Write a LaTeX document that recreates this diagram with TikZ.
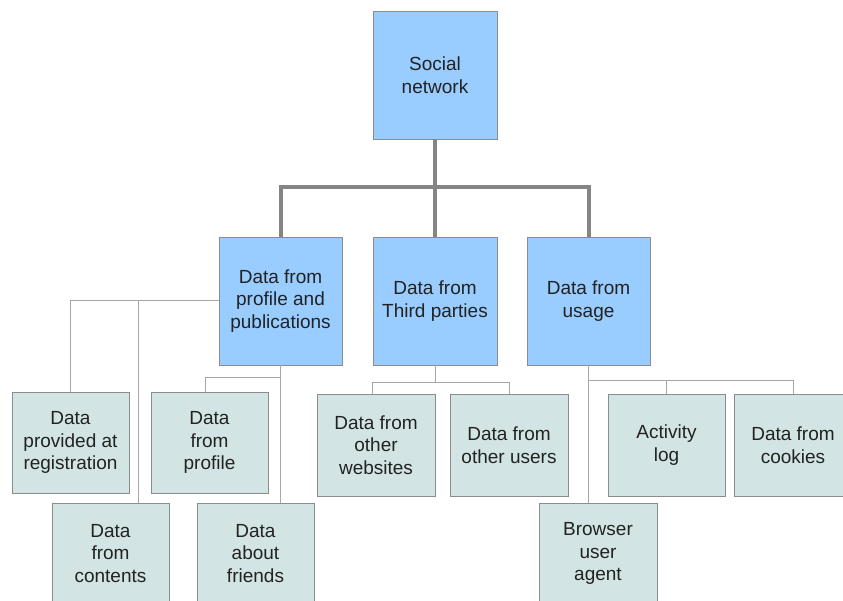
\documentclass[tikz,border=0pt]{standalone}
\usepackage{fontspec}
\setmainfont{Liberation Sans}
\usetikzlibrary{positioning}
\definecolor{topblue}{HTML}{99CCFF}
\definecolor{leafgray}{HTML}{D2E5E4}
\definecolor{framegray}{HTML}{8C8C8C}
\definecolor{linegray}{HTML}{A6A6A6}
\definecolor{thickgray}{HTML}{858585}
\definecolor{inkgray}{HTML}{222222}

\begin{document}
\begin{tikzpicture}[x=1pt,y=-1pt]
			\tikzset{topbox/.style = {shape=rectangle,draw=framegray,fill=topblue,
					minimum width=123pt, minimum height=128pt, inner sep = 0pt,
					align=center, text=inkgray, font=\fontsize{19}{22.5}\selectfont}}
			\tikzset{leafbox/.style = {shape=rectangle,draw=framegray,fill=leafgray,
					minimum width=117pt, minimum height=101pt, inner sep = 0pt,
					align=center, text=inkgray, font=\fontsize{19}{22.5}\selectfont}}
			\tikzset{mainedge/.style = {draw=thickgray, line width=4pt}}
			\tikzset{edge/.style = {draw=linegray, line width=1pt}}
			
			\clip (0,0) rectangle (843,601);
			\fill[white] (0,0) rectangle (843,601);
			
			% vertices
			\node[topbox, minimum width=124pt] (net) at (435,75) {Social\\network};
			
			\node[topbox] (prof) at (280.5,301) {Data from\\profile and\\publications};
			\node[topbox, minimum width=124pt] (third) at (435,301) {Data from\\Third parties};
			\node[topbox] (usage) at (588.5,301) {Data from\\usage};
			
			\node[leafbox] (reg) at (70.5,442.5) {Data\\provided at\\registration};
			\node[leafbox] (cont) at (110.5,553.5) {Data\\from\\contents};
			\node[leafbox] (pfile) at (209.5,442.5) {Data\\from\\profile};
			\node[leafbox] (friends) at (255.5,553.5) {Data\\about\\friends};
			
			\node[leafbox, minimum width=118pt, minimum height=102pt] (webs) at (376,445) {Data from\\other\\websites};
			\node[leafbox, minimum width=118pt, minimum height=102pt] (users) at (509,445) {Data from\\other users};
			
			\node[leafbox, minimum height=102pt] (act) at (666.5,445) {Activity\\log};
			\node[leafbox, minimum width=118pt, minimum height=102pt] (cook) at (793,445) {Data from\\cookies};
			\node[leafbox, minimum width=118pt] (brow) at (598,553.5) {Browser\\user\\agent};
			
			\coordinate (hub) at (435,187);
			\coordinate (pj) at (280.5,377);
			\coordinate (tj) at (435,382);
			\coordinate (uj) at (588.5,380);
			
			%edges
			
			\draw[mainedge] (net) -- (hub);
			\draw[mainedge] (prof.north) |- (hub) -| (usage.north);
			\draw[mainedge] (hub) -- (third.north);
			
			\draw[edge] (prof.west) -| (reg.north);
			\draw[edge] (prof.west) -| ([xshift=27.5pt]cont.north);
			\draw[edge] (prof.south) -- (pj) -| ([xshift=-4.5pt]pfile.north);
			\draw[edge] (pj) -- (pj |- friends.north);
			
			\draw[edge] (third.south) -- (tj) -| ([xshift=-4pt]webs.north);
			\draw[edge] (tj) -| (users.north);
			
			\draw[edge] (usage.south) -- (uj) -| (act.north);
			\draw[edge] (uj) -| (cook.north);
			\draw[edge] (uj) -- (uj |- brow.north);
			
\end{tikzpicture}
\end{document}
